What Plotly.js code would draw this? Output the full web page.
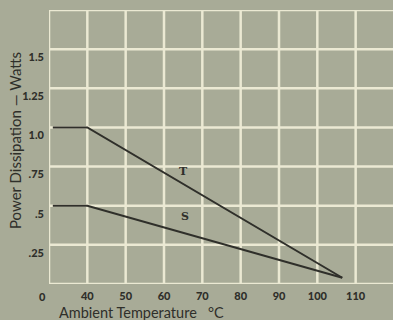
<!DOCTYPE html>
<html>
<head>
<meta charset="utf-8">
<script src="https://cdn.plot.ly/plotly-3.0.1.min.js"></script>
<style>
html,body{margin:0;padding:0;background:#a8ab97;}
#chart{width:393px;height:320px;}
</style>
</head>
<body>
<div id="chart"></div>
<script>
// Data
var tempT = [31, 40, 106.5];
var powerT = [1.0, 1.0, 0.04];
var tempS = [31, 40, 106.5];
var powerS = [0.5, 0.5, 0.04];

var xTickVals = [40, 50, 60, 70, 80, 90, 100, 110];
var xTickText = ["40", "50", "60", "70", "80", "90", "100", "110"];
var xGridVals = [30, 40, 50, 60, 70, 80, 90, 100, 110];
var yTickVals = [0.25, 0.5, 0.75, 1.0, 1.25, 1.5];
var yTickText = [".25", ".5", ".75", "1.0", "1.25", "1.5"];
var yGridVals = [0, 0.25, 0.5, 0.75, 1.0, 1.25, 1.5, 1.75];
var originLabel = "0";
var curveLabels = ["T", "S"];
var curveLabelX = [65.0, 65.5];
var curveLabelY = [0.717, 0.43];

var ink = "#2f2f2a";
var grid = "#ebe9d3";
var bg = "#a8ab97";
var fnt = "Lato, 'Open Sans', sans-serif";

var traces = [
  {x: tempT, y: powerT, mode: "lines", line: {color: ink, width: 2}, hoverinfo: "skip", showlegend: false, name: "T"},
  {x: tempS, y: powerS, mode: "lines", line: {color: ink, width: 2}, hoverinfo: "skip", showlegend: false, name: "S"}
];

// gridlines as shapes spanning exact plot extents
var shapes = [];
xGridVals.forEach(function(v){
  shapes.push({type: "line", xref: "x", yref: "y", x0: v, x1: v, y0: 0, y1: 1.75,
    line: {color: grid, width: 2.5}, layer: "below"});
});
yGridVals.forEach(function(v){
  shapes.push({type: "line", xref: "x", yref: "y", x0: 30, x1: 125, y0: v, y1: v,
    line: {color: grid, width: 2.5}, layer: "below"});
});

var annotations = [
  {xref: "x", yref: "paper", x: 30, y: 0, xshift: -7, yshift: -12, yanchor: "middle", xanchor: "center",
   text: originLabel, showarrow: false, font: {family: fnt, size: 11, color: ink, weight: 900}},
  {xref: "paper", yref: "paper", x: (141 - 49) / 344, y: (284 - 312) / 274, xanchor: "center", yanchor: "middle",
   text: "Ambient Temperature\u00A0\u00A0\u00A0\u00B0C", showarrow: false,
   font: {family: fnt, size: 14.5, color: ink}},
  {xref: "paper", yref: "paper", x: (15 - 49) / 344, y: (284 - 141) / 274, xanchor: "center", yanchor: "middle",
   text: "Power Dissipation \u2014 Watts", textangle: -90, showarrow: false,
   font: {family: fnt, size: 15, color: ink}}
];
curveLabels.forEach(function(t, i){
  annotations.push({xref: "x", yref: "y", x: curveLabelX[i], y: curveLabelY[i], text: t, showarrow: false,
    font: {family: "'DejaVu Serif', serif", size: 11, color: ink, weight: 700}});
});

var layout = {
  width: 393, height: 320,
  margin: {l: 49, r: 0, t: 10, b: 36},
  paper_bgcolor: bg, plot_bgcolor: bg,
  showlegend: false,
  xaxis: {
    range: [30, 30 + 344 / 38.333 * 10],
    tickvals: xTickVals, ticktext: xTickText,
    showgrid: false, zeroline: false, showline: false, ticks: "",
    ticklabelstandoff: 4,
    tickfont: {family: fnt, size: 11, color: ink, weight: 900},
    fixedrange: true
  },
  yaxis: {
    range: [0, 1.75],
    tickvals: yTickVals, ticktext: yTickText,
    showgrid: false, zeroline: false, showline: false, ticks: "",
    ticklabelstandoff: 4, ticklabelshift: 8,
    tickfont: {family: fnt, size: 11, color: ink, weight: 900},
    fixedrange: true
  },
  shapes: shapes,
  annotations: annotations
};

Plotly.newPlot("chart", traces, layout, {staticPlot: true, displayModeBar: false});
</script>
</body>
</html>
